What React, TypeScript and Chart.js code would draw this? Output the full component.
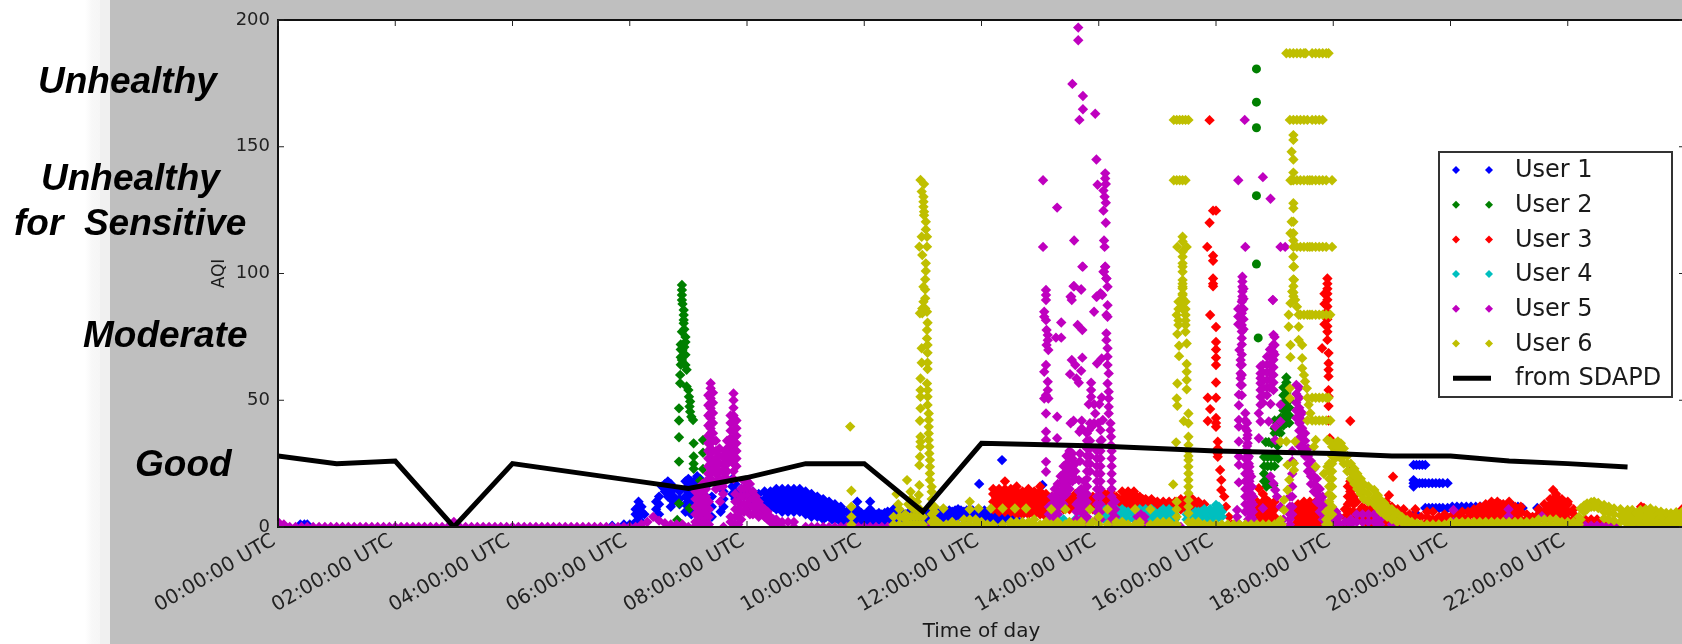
import React, { useEffect, useRef } from "react";
import { Chart, registerables } from "chart.js";

Chart.register(...registerables);

// every row is [hour, value, value, ...]
type Row = number[];
const expand = (rows: Row[]) => rows.flatMap(([h, ...vals]) => vals.map((v) => ({ x: h, y: v })));

const tickLabels = ["00:00:00 UTC","02:00:00 UTC","04:00:00 UTC","06:00:00 UTC","08:00:00 UTC","10:00:00 UTC","12:00:00 UTC","14:00:00 UTC","16:00:00 UTC","18:00:00 UTC","20:00:00 UTC","22:00:00 UTC"];

const user1Early: Row[] = [[.38,1],[.45,1],[.5,1],[5.7,.5],[5.9,1],[6,1],[6.1,2,5,7],[6.15,4,8,10],[6.2,2,6,8],[6.25,5]];
const user1Morning: Row[] = [[6.45,4,7,10],[6.5,5,9,12],[6.55,16],[6.6,17,14],[6.65,18,15,12],[6.7,17,14,11,8],[6.75,15,12,10],[6.85,14,11,9],[6.95,18,15,12,9,6],[7,19,16,13,10],[7.05,18,15,12,9,7,5],[7.1,18,15,12,9],[7.15,20,17,14,11],[7.2,19,16,13,10,7],[7.25,17,14,11],[7.3,16,12,9,5,2],[7.4,12,8,4],[7.55,10,6],[7.6,14,11,8],[7.75,19,16,13],[7.8,17,14,11],[7.9,15,12],[8,15,12],[8.1,14,11]];
const user1Ribbon: Row[] = [[8.2,13,11],[8.3,14,11,9],[8.4,14,11,8],[8.5,15,12,9,7],[8.6,15,12,9,6],[8.7,15,12,9,6],[8.8,15,12,9,6],[8.9,15,12,9,6],[9,14,11,8,5],[9.1,13,10,7,4],[9.2,12,9,6,4],[9.3,11,8,5,3],[9.4,10,7,4],[9.5,9,6,3],[9.6,8,5,2],[9.7,6,3,1],[9.8,7,4,1],[9.88,10,7,4,1],[10,5,2],[10.1,10,7,4,1],[10.2,5,2],[10.3,5,2],[10.4,6,3,1],[10.5,7,4,1],[10.6,4,2],[10.7,5,2],[10.8,4,1],[10.9,5,2],[11,5,2],[11.1,6,3,1],[11.2,4,1],[11.3,6,3],[11.4,6,3],[11.5,6,3],[11.6,7,4],[11.7,6,3],[11.8,7,4],[11.9,6,3],[12,6,3],[12.1,5,3],[12.2,5,3],[12.3,5,2],[12.4,5,3],[12.5,4,2],[12.6,5,3],[12.7,5],[12.35,26.4],[11.96,17],[13.04,16.6]];
const user1RibbonFill: Row[] = [[8.35,12.5,9.5],[8.45,13.5,10.5,8],[8.55,13.5,10.5,7.5],[8.65,13.5,10.5,7.5],[8.75,13.5,10.5,7.5],[8.85,13.5,10.5,7.5],[8.95,13,10,7],[9.05,12,9,6],[9.15,11,8,5],[9.25,10,7,5],[9.35,9,6,4],[9.45,8,5,3],[9.55,7,4],[9.65,6,3],[9.75,5.5,3],[9.85,5.5,3],[9.95,5.5,3],[10.05,5.5,3],[10.15,5.5,3],[10.25,5.5,3],[10.35,5.5,3],[10.45,5.5,3],[10.55,5.5,3],[10.65,5.5,3],[10.75,5.5,3],[10.85,5.5,3],[10.95,5.5,3],[11.05,5.5,3],[11.15,5.5,3],[11.25,5.5,3],[11.35,6.5,4.5],[11.45,6.5,4.5],[11.55,6.5,4.5],[11.65,6.5,4.5],[11.75,6.5,4.5],[11.85,6.5,4.5],[11.95,6.5,4.5],[12.05,6.5,4.5],[12.15,6.5,4.5],[12.25,6,4],[12.35,6,4],[12.45,6,4],[12.55,5,3]];
const user1Evening: Row[] = [[19.37,24.5,18.5,17.3,16],[19.42,24.5,17.3],[19.47,24.5,17.3],[19.52,24.5,17.3],[19.57,24.5,17.3,7.5],[19.63,17.3,7.5],[19.69,17.3,7.5],[19.75,17.3,7.5],[19.81,17.3,7.5],[19.87,17.3,7.5],[19.95,17.3,7.5],[19.4,5.5],[20.03,8,7],[20.11,8,7],[20.19,8,7],[20.27,8,7],[20.35,8,7],[20.43,8,7],[20.51,8,7],[20.59,8,7],[20.67,8,7],[20.75,8,7],[20.83,8],[20.91,8],[20.99,8],[21.07,8],[21.15,8],[21.23,7.5],[21.48,7.5]];

const user2High: Row[] = [[16.69,180.7,167.6,157.5,130.7,103.7],[16.72,74.6]];
const user2Morning: Row[] = [[6.89,95.5,93.5,91.5,89.5],[6.9,88],[6.92,85.6,83.6,81.7,80.4],[6.89,77],[6.95,75,73],[6.9,69.8],[6.95,67.9],[6.89,65.9],[6.95,63.9],[6.97,62],[6.86,60],[6.86,56.7],[6.97,55.4],[7,54],[7.01,51.4],[7.03,49.5],[7.02,47.5],[7.03,45.5],[7.05,43.5],[7.08,42.2],[6.84,46.8,42,35.4,25.8],[7.09,33,27.8,25,23],[7.25,34.3,29.3,22.9],[7.2,18.3],[6.84,9.3],[7.02,7.4],[6.81,2.8],[6.87,72,70,67,64],[6.93,78,71,68]];
const user2Evening: Row[] = [[17.2,59,57,55,53,51,49,47,45,43,41],[17.15,55,52,49,46,43,40],[17.25,50,47,44,41],[17,42,39,37],[17.05,41,38],[17.1,43,40,37],[16.85,33.5],[16.9,33.5],[16.95,33],[17.02,33],[17.05,32],[16.82,27.6,24],[16.88,27.6,24],[16.94,27.6,24],[17,27.6,24],[17.06,27],[16.82,21,18],[16.86,18,16],[16.92,17],[16.98,16.5]];

const user3Block: Row[] = [[12.2,7,10,13,15],[12.3,6,9,12,15],[12.4,6,9,12,15,18],[12.5,6,9,12,15],[12.6,5,8,11,14,16],[12.7,5,8,11,14],[12.8,5,8,11,14,15],[12.9,5,8,11,14],[13,5,8,11,14,16],[13.1,4,7,10,13],[13.2,5,8,10,12],[13.3,7,10,12],[13.4,7,10,12],[13.5,7,10,12],[13.6,7,10,13],[13.7,7,10,13],[13.8,7,10,12],[13.9,7,10,12],[14,7,10,12],[14.1,7,10,13],[14.2,7,10,14],[14.3,7,10,12],[14.4,7,10,14],[14.5,7,10,14],[14.6,7,10,14],[14.7,7,10,12],[14.8,7,10,11],[14.9,7,11],[15,7,10],[15.1,7,10],[15.2,7,10],[15.3,7,10],[15.4,7,10,11],[15.5,7,10,11],[15.6,7,10,11],[15.7,7,10],[15.8,7,9]];
const user3BlockFill: Row[] = [[12.25,8.5,11.5,14],[12.35,7.5,10.5,13.5],[12.45,7.5,10.5,13.5],[12.55,7,10,13],[12.65,6.5,9.5,12.5],[12.75,6.5,9.5,12.5],[12.85,6.5,9.5,12.5],[12.95,6.5,9.5,12.5],[13.05,6,9,12],[13.15,6,9,11],[13.25,8.5,11],[13.35,8.5,11],[13.45,8.5,11],[13.55,8.5,11],[13.65,8.5,11.5],[13.75,8.5,11.5],[13.85,8.5,11],[13.95,8.5,11],[14.05,8.5,11],[14.15,8.5,11.5],[14.25,8.5,12],[14.35,8.5,11],[14.45,8.5,12],[14.55,8.5,12],[14.65,8.5,12],[14.75,8.5,11],[14.85,8.5,10],[14.95,8.5],[15.05,8.5],[15.15,8.5],[15.25,8.5],[15.35,8.5],[15.45,8.5],[15.55,8.5],[15.65,8.5],[15.75,8.5]];
const user3Spike16: Row[] = [[15.89,160.5,120],[15.95,124.8,107,105,98,96,95],[16,124.8,78.9,73,70,66.8,63.9,57,51,43,41,39.5],[15.85,110.5],[15.9,83.6,46.5],[15.86,51,41.8],[16.03,33.6,31,29,27.7],[16.07,22.5],[16.09,18.5,14.6],[16.14,12],[16.17,8],[16.22,4],[16.27,1]];
const user3Spike18: Row[] = [[17.9,98,96,94,92,89.6,87,84.4,82,79.2,77,73.8],[17.85,92,88,84,80],[17.81,70.5],[17.92,68.6,64.6,62,59.4,54,51.5,47.7,42],[17.94,35],[18.29,41.8]];
const user3Low: Row[] = [[16.7,1,4,7,10],[16.73,15.3],[16.8,1,4,7,10,13],[16.9,1,4,7,10],[17,1,4,7,10],[17.35,1,4,7],[17.4,1,4,7,9],[17.5,1,4,7,10],[17.6,1,4,7,10],[17.7,1,4,7,10],[17.8,1,4,7,9],[17.85,2,5,8],[17.9,1,4],[18.1,1,4],[18.2,1,4,7],[18.25,6,9,12,16],[18.29,6,10,14,18,22],[18.35,3,6,9,12,16],[18.4,5,10],[18.5,2,5,8],[18.6,1,4,7,10],[18.7,1,4,8],[18.8,1,3,6,9],[18.9,1,4,7,10],[18.95,12.5],[19.02,19.8],[19,1,4,8],[19.1,1,4,7],[19.2,1,3,5,7],[19.3,1,3,5],[19.4,2,4,7],[19.5,1,4],[19.6,2,4,6],[19.7,1,3,6],[19.8,2,4],[19.9,3,5],[20,2,4],[20.1,2,4,5],[20.2,2,4,6],[20.3,2,4,6],[20.4,2,5,7],[20.5,2,5,8],[20.6,2,5,9],[20.7,2,5,8,10],[20.8,2,5,8,10],[20.9,3,6,9],[21,3,6,9,10],[21.1,3,6,8],[21.2,3,6,8],[21.3,3,5],[21.4,2,4],[21.5,3,5,7],[21.6,3,6,9],[21.7,3,6,9,11],[21.75,14.6],[21.8,3,6,9,12,13],[21.9,3,6,9,11],[22,3,6,9,10],[22.1,3,5,7],[22.2,2,3],[22.3,1,3],[22.4,1,3],[22.5,1,3],[22.6,1,2],[22.7,1],[23.25,8],[23.3,7.5],[23.95,7]];
const user3LowFill: Row[] = [[16.75,2.5,5.5,8.5],[16.85,2.5,5.5,8.5,11],[16.95,2.5,5.5,8.5],[17.45,2.5,5.5,8],[17.55,2.5,5.5,8.5],[17.65,2.5,5.5,8.5],[17.75,2.5,5.5,8.5],[18.45,3.5,6.5],[18.55,3.5,6.5],[18.65,2.5,5.5,8],[18.85,2.5,4.5,7.5],[18.95,2.5,5.5,8],[19.05,2.5,5.5],[19.15,2.5,5.5],[20.45,3.5,6],[20.55,3.5,6.5],[20.65,3.5,7],[20.75,3.5,6.5,9],[20.85,3.5,6.5,9],[20.95,4.5,7.5],[21.05,4.5,7.5],[21.15,4.5,7],[21.65,4.5,7.5],[21.75,4.5,7.5,10.5],[21.85,4.5,7.5,10.5],[21.95,4.5,7.5]];

const user4Band: Row[] = [[13.3,3,5],[13.4,2,3],[13.6,3],[13.7,5],[13.8,3],[14,5,7],[14.1,3,5,7],[14.2,3,5,7],[14.3,3,5,7],[14.4,3,5,7],[14.5,3,5,6],[14.6,3,5],[14.7,3,5,7],[14.8,3,5,7],[14.9,3,5,7],[15,5],[15.1,3,5,7],[15.2,3,5,7],[15.3,3,5],[15.5,3,5],[15.6,3,5],[15.7,3,5,6],[15.8,3,5,7],[15.9,3,5,7],[16,3,5,7,8.7],[16.1,4,6]];
const user4Fill: Row[] = [[14.05,4,6],[14.15,4,6],[14.25,4,6],[14.35,4,6],[14.45,4,6],[14.75,4,6],[14.85,4,6],[14.95,4,6],[15.05,4,6],[15.15,4,6],[15.25,4,6],[15.55,4],[15.65,4,6],[15.75,4,6],[15.85,4,6],[15.95,4,6],[16.05,4,6,8]];

const user5Floor: Row[] = [[0,0,2],[.1,1],[.2,0],[.3,0],[.4,0],[.5,0],[.6,0],[.7,0],[.8,0],[.9,0],[1,0],[1.1,0],[1.2,0],[1.3,0],[1.4,0],[1.5,0],[1.6,0],[1.7,0],[1.8,0],[1.9,0],[2,0],[2.1,0],[2.2,0],[2.3,0],[2.4,0],[2.5,0],[2.6,0],[2.7,0],[2.8,0],[2.9,0],[3,0,2],[3.1,0],[3.2,0],[3.3,0],[3.4,0],[3.5,0],[3.6,0],[3.7,0],[3.8,0],[3.9,0],[4,0],[4.1,0],[4.2,0],[4.3,0],[4.4,0],[4.5,0],[4.6,0],[4.7,0],[4.8,0],[4.9,0],[5,0],[5.1,0],[5.2,0],[5.3,0],[5.4,0],[5.5,0],[5.6,0],[5.7,0],[5.8,0],[5.9,0],[6,0],[6.1,0],[6.2,1],[6.3,2],[6.4,4],[6.5,2.5],[6.6,1.5],[6.7,1],[6.8,1],[6.9,1],[7,0],[7.1,0],[7.6,0],[8.6,0],[8.8,0],[9,0],[9.1,0],[9.2,0],[9.3,0],[9.4,0],[9.5,0],[9.6,0],[9.7,0],[9.8,0],[9.9,0],[10,0],[10.1,0],[10.2,0],[10.3,0],[10.4,0],[10.5,0],[10.6,0],[10.7,0],[10.8,0],[10.9,0],[11,0],[11.1,0],[11.2,0],[11.3,0]];
const user5Morning: Row[] = [[7.38,56.7,54.7,52.7,50.8,48.8,46.8,44.9,42.9,40.9,38.9,37,35,33,31,29,27,25,23,21,19],[7.34,52,48,44,40,36,33,30,27,24,21],[7.42,53,49,45,41,37,34,30,26,22,18],[7.47,34,30,27,24,21,18,15],[7.53,31,28,25,22,19,16],[7.59,28,25,22,19,16,13],[7.77,52.7,50,47,44,41,38,35,33,31,28,25,22,19],[7.72,44,41,38,35,32,29,26],[7.82,42,39,36,33,30,27,24],[7.66,34,31,28,25,22,19],[7.62,30,27,24,21,18],[7.12,14,11,8,5,2],[7.18,15,12,9,6,3,1],[7.24,17,14,11,8,5,2],[7.3,18,15,12,9,6,3,1],[7.35,10,7,4,1],[7.54,10],[7.8,13,10,7,4,1],[7.85,10,7,4,1],[7.72,4,2],[7.9,15,12,9,6,3],[7.95,18,15,12,9,6],[8,18,15,12,9,7],[8.05,17,14,11,8,5],[8.1,14,11,8,5],[8.15,12,9,6],[8.2,10,7,4],[8.25,8,5],[8.3,7,4],[8.35,6,3],[8.4,4,2],[8.45,3,1],[8.5,3,1],[8.6,2],[8.7,2],[8.8,2]];
const user5Scatter: Row[] = [[13.1,93.5,91.5,89.5,81.6,63.9,52,44.8,37.6,34.3,25.7,21.8],[13.07,84.9,82.9,61.2,50.7],[13.13,75.7,73.7,57.3,54],[13.14,69.8,50.7],[13.11,77.7,71.8],[13.72,102.7,77.7,66.8],[13.57,95,41.9],[13.7,93.7,61.6],[13.52,90.8,40.9],[13.54,89.5,65.9],[14.03,92.2,38.2],[13.96,90.8],[14.11,102.7,139.5,137.5,102.7],[14.08,100.7,132.7,124.8],[14.13,98,83.6,76.4,73.7,98],[14.15,94.8,87.5,82.9,70.5,67.2,63.9,56.6],[13.92,84.9,48.4,40.9],[13.36,80.7,74.7],[13.64,79.7],[13.27,74.7],[14.05,66.5,51.1,34.3],[13.97,64.5,90.9],[13.6,63.9],[13.51,60.3],[13.62,58.6],[13.66,56.9],[14.17,60.6,53.4,50.7,47.4,44.8],[13.87,56.9,54,51.4],[13.83,48.4,38.2],[14.01,48.4],[13.29,43.5,35,126],[13.94,44.8],[13.71,41.9,38.9],[13.85,40.9],[13.99,40.9],[14.07,42.2],[14.2,40.9,38.2],[13.67,37.6,160.6],[13.88,39.5],[14.21,35.6,32.3],[13.65,197,192],[13.55,174.8],[13.73,170,164.8,102.7],[13.94,163],[13.96,145],[14.12,135.3,127.9,120],[13.98,135],[13.05,136.8,110.5],[14.1,130.3,110.5],[13.58,113,95],[14.09,113,100.7],[13.7,93.7],[13.53,90.9],[14.06,91.5],[16.49,160.6],[16.38,136.8],[16.8,138],[16.93,129.5],[16.5,110.5],[17.1,110.5],[17.18,110.5],[16.97,89.5,89.6]];
const user5Dense: Row[] = [[13.15,1,3,5,8],[13.2,1,3,6,9,12],[13.25,3,6,9,12,15],[13.3,5,8,11,14,17],[13.35,8,11,14,17,20],[13.4,9,12,15,18,21,24],[13.45,13,16,19,22,25,28],[13.5,15,18,21,24,27,30],[13.55,18,21,24,27,29],[13.6,19,22,25],[13.62,3,6,9],[13.66,6.7,10,14,18.5],[13.68,29,26],[13.7,3,6,9,12,15],[13.75,3,6,9,12,15,18],[13.8,37,34,31,28,25,22,19,16,13,10,7,4,1],[13.85,34,31,28,25,22],[13.97,30,27,24,21,18,15,12,9,6,3],[14.03,34,30,27,24,21,18,15,12,9,6,3],[14.22,30,27,24,21,18,15,12,9,6,3],[14.28,10,7,4,1],[14.66,2,4],[14.72,2,4,5],[14.78,2,4],[15.4,0]];
const user5Afternoon: Row[] = [[16.45,98.7,96.8,94.8,92.9,90.9,89.5],[16.44,88.9,86.3,84.3,82.3,79.7,77.1,74.5,72,68,64,60,56,52],[16.38,86,83,80],[16.47,94,90,86,82,78],[16.4,69.8],[16.42,65.9,63.9,60.6,58.7,56],[16.39,52.2,48,42.2,39.6,33.7,27.8,24.5,17.6],[16.36,6.7,4,2],[16.5,44.9,42,39,30,27,24,21,18,15,12,9,6],[16.53,41,38,35,32],[16.54,36.3,33,30,27,24],[16.56,27.8,25,22,19],[16.55,18,15,12,9,6,3,1],[16.57,23.8,21,18,15,12],[16.6,19.9,16,13,10,7,4],[16.61,15.9,12,9,6,3,1],[16.63,12,9,6,3,1],[16.76,63.3,60.6,58.7,56.7,54,51.4,48.2,41.6],[16.8,64,61,58,55,52,49,7.4],[16.87,67.2,64,61,58,55,52],[16.92,70,67,64,61,58,55],[16.98,75.8,72,69,66,63,60,57,54,17.2],[17,75,71.8,68],[16.93,48.5,19.9],[17.1,48.2,41.6],[16.73,44.9,35],[16.9,41.6],[17.01,39.6,34.3,14.6],[17.04,12],[17.1,8],[17.15,3],[17.3,30,26,21,16,12,8,5],[17.26,12,8,5,3,1],[17.37,56,52.5,49,46,43],[17.42,55,51,47,44,41,38,35,32],[17.47,45,42,39,36,33,30],[17.52,37,34,31,28],[17.57,31,28,25,22],[17.62,26,23,20,17],[17.67,23,20,17,14],[17.72,19,16,13,10],[17.77,15,12,9,6],[17.82,12,9,6,3],[17.87,9,6,3,1],[17.92,6,3,1],[17.97,4,2],[18.02,6,3,1],[18.05,6,3,1],[18.1,4,1],[18.2,2],[18.3,3,1],[18.4,5,2],[18.5,5,2],[18.6,5,2],[18.7,5,2],[18.75,3,1],[18.8,3,1],[19,1],[19.2,1],[20.05,6.7,2,1],[20.99,4.2,7],[21.56,4.3],[22.2,.5],[22.3,.5],[22.4,.5],[22.5,.5],[22.6,.5],[22.7,.5],[22.8,.5],[23.25,.5],[23.4,.5]];

const user6Spike11: Row[] = [[10.96,136.9,58.6,54,51.4,46.8,35.6,33.6,31.7],[11.02,135.3],[10.98,132.3,114.5,70.5,64.8],[11.01,130.3,128.3,126.3,94.8],[11.02,124.4,123],[11.05,120.4,117.4,104,101],[11.07,114.5,110.6,84.9,77.7,74.4,56.6],[10.94,110.6,24.4,16.5],[10.99,107.3,84.3,86.2],[11.04,97.7,93.7,90.2,86.2],[11.01,88.9],[10.95,84.3,41.9,27.7],[11.08,80.6,71.8,68.7,64.8,62.3,54,51.4,48.1],[11.1,44.8,42.2,39.5,36.9,34.3],[11.11,31.7,29],[11.12,26.4,23.8,21.1,18.5],[11.15,15.9,13.9],[9.76,39.6],[9.78,14.3,8,4,1],[10.73,18.5],[10.79,13.9],[10.93,12.6]];
const user6Base: Row[] = [[10.5,4,1],[10.55,13],[10.58,9],[10.6,1,4,7],[10.7,1,3,5],[10.75,1,4,9],[10.8,1,4,8,11],[10.85,1,4,7],[10.9,1,4,7,10],[10.95,1,4,7],[11,1,4],[11.15,2,5,8,11],[11.2,1,3,6,8],[11.25,2],[11.3,1],[11.35,7.3],[11.4,1],[11.5,1,2],[11.6,1],[11.7,1,3],[11.8,1,3,7,10],[11.9,1,3],[11.95,7.3],[12,1,2],[12.1,1],[12.16,7.3],[12.2,1],[12.36,1,7.3],[12.5,1,2],[12.57,7.3],[12.6,1,2],[12.7,1,2],[12.76,7.3],[12.8,1,2],[12.9,1,3],[13,1],[13.1,1,2],[13.19,1,7],[13.3,1,2],[13.43,1,7],[13.5,1,2],[13.6,1],[13.7,1,2],[13.85,1,7],[13.9,2],[14,1,4],[14.15,1,7],[14.3,1,2],[14.4,1,2],[14.5,1],[14.62,1,7],[14.7,1,2],[14.88,1,7],[15,1,2],[15.1,1,2],[15.2,1,2],[15.33,10,7,4,1],[15.6,1,2],[15.7,1,2],[15.8,1],[15.9,1],[16,1],[16.1,1],[16.2,1],[16.3,1],[16.4,1],[16.5,1],[16.6,1],[16.7,1],[16.8,1],[16.9,1],[17,1],[17.05,1]];
const user6Spike15: Row[] = [[15.28,160.6,136.8],[15.33,160.6,136.8],[15.38,160.6,136.8],[15.43,160.6,136.8,114.5,112.6,108.6,106.6,104,102.7,100.7,97.4,96,94.8,94.1,91.5,92,90,88,86],[15.48,160.6,136.8,88.9,86,83.6,81.5,79.7,77],[15.53,160.6],[15.34,110.5,76.1,47.8],[15.5,110.5,72.4,64.3,61.2,58,54.3],[15.36,88.9,86,81.5],[15.33,83.6,50.7],[15.36,79.7],[15.37,71.5,67.4],[15.34,56.6],[15.53,44.8,40.9,35.6,32.3,30,28,26.4,23.8,21.1,18.5,15.9,13.3,10.6,8,5.4,2],[15.45,41.8],[15.32,33.4],[15.27,16.8]];
const user6Rows: Row[] = [[17.2,186.9],[17.26,186.9,160.6],[17.32,186.9,160.6],[17.38,186.9,160.6,136.8,110.5],[17.44,186.9,160.6,136.8,110.5,83.7],[17.5,186.9,160.6,136.8,110.5,83.7],[17.53,186.9],[17.64,186.9,160.6,136.8,110.5,83.7,51,42],[17.7,186.9,160.6,136.8,110.5,83.7,51,42],[17.76,186.9,160.6,136.8,110.5,83.7,51,42],[17.82,186.9,160.6,136.8,110.5,83.7,51,42],[17.88,186.9,136.8,110.5,83.7,51,42],[17.92,186.9,51],[17.98,136.8,110.5],[17.56,160.6,136.8,110.5,83.7,42,51],[17.6,136.8,110.5,83.7],[17.95,83.7,42,33.7]];
const user6Column: Row[] = [[17.32,154.6,152.7,145,139.8,136.8,127.7,125.7,120.4,115.9,113,110.5,106.6,102.7,97.7,95,92.5,91],[17.29,148,136.8,120.4],[17.27,136.8,115.9],[17.33,102.7,97.5],[17.3,92.9],[17.35,89.6],[17.27,88.3,71.8,67],[17.24,83.7,79],[17.38,86.9],[17.41,83.7,79,73.8],[17.47,71.8,66.6,62.6],[17.5,60],[17.52,57.4],[17.55,54.7],[17.58,48.2],[17.61,44.9],[17.7,34.3,23.8],[17.9,34.3,23.8],[17.67,31.7],[17.84,21],[17.1,33.7,2.8],[17.2,33.7],[17.35,33.7],[17.26,54.7,50.8],[17.16,6.7,10.7],[17.22,14.6,24.5],[17.25,18.6],[17.33,22.5,25.1],[17.07,1],[17.12,1]];
const user6Hump: Row[] = [[17.93,25,22,19,16,13,10,7,4,1],[17.88,6,3,1],[17.98,31.7,28,25,22,19,16,12,8,5],[18.03,33,30,27],[18.08,33.7,31,28],[18.13,33,30,27],[18.18,31,28,25],[18.24,28,25,22],[18.3,25,22,19],[18.36,23,20,17],[18.41,21,18,15],[18.47,19,16,13],[18.52,17,14,11],[18.6,16,13,10],[18.7,14.6,11.5,9],[18.76,12.5,10,7.5],[18.81,10.7,8,6],[18.87,9.5,7,5],[18.92,8,6,4],[19,7,5,3],[19.09,5.4,3.5,2],[19.17,4,2],[19.26,2.8,1],[19.34,2,1],[19.43,1.5,.5],[19.5,1],[19.6,1],[19.7,1],[19.8,1],[19.9,1],[20,1,2],[20.1,1,2],[20.2,1,2],[20.3,1,2],[20.4,1,2],[20.5,1,2],[20.6,1,2],[20.7,1,2],[20.8,1,2],[20.9,1,2],[21,1,2],[21.1,1,2],[21.2,1,2],[21.3,1,2],[21.4,1,2],[21.5,1,3],[21.6,1,3],[21.7,1,3],[21.8,1,3],[21.9,1,2],[22,1,2],[22.1,1,2]];
const user6Late: Row[] = [[22.19,1,4],[22.22,3,7.3],[22.28,8.5,6],[22.33,9.3,7],[22.4,9.8,8],[22.45,10,8],[22.52,9.5,7.5],[22.62,8.7,6,3.4],[22.7,8,5.5,3],[22.79,7.3,5,2.5],[22.9,7,4.5,2],[23.02,6.7,4,1],[23.1,6.7,4,1],[23.24,6.7,4,1],[23.33,7,4,1],[23.41,7.3,4,1],[23.5,6.5,3.5,1],[23.59,6,3,1],[23.68,5.5,3,1],[23.76,5.4,3,1],[23.85,5.8,3,1],[23.95,6,3,1],[22.95,5.5,3],[23.07,5.5,3],[23.17,5.5,3],[23.28,5.5,3],[23.37,5.5,3],[23.45,5.5,3],[23.55,5,3],[23.64,5,3],[23.72,4.5,2.5],[23.8,4.5,2.5],[23.9,4.5,2.5],[23.99,5,3]];

const sdapdHours = [0,1,2,3,4,6,7,8,9,10,11,12,14,16,18,19,20,21,22,23.02];
const sdapdValues = [28,25,26,0,25,18.5,15.2,19.5,25,25,6,33,32,30,29,28,28,26,25,23.7];

const userNames = ["User 1","User 2","User 3","User 4","User 5","User 6"];
const userColors = ["#0000ff","#008000","#ff0000","#00bfbf","#bf00bf","#bfbf00"];
const userRows: Row[][] = [
  [...user1Early,...user1Morning,...user1Ribbon,...user1RibbonFill,...user1Evening],
  [...user2High,...user2Morning,...user2Evening],
  [...user3Block,...user3BlockFill,...user3Spike16,...user3Spike18,...user3Low,...user3LowFill],
  [...user4Band,...user4Fill],
  [...user5Floor,...user5Morning,...user5Scatter,...user5Dense,...user5Afternoon],
  [...user6Spike11,...user6Base,...user6Spike15,...user6Rows,...user6Column,...user6Hump,...user6Late],
];
const roundCount = expand(user2High).length;

const labels = [
  { text: "Unhealthy", x: 38, base: 93 },
  { text: "Unhealthy", x: 41, base: 190 },
  { text: "for  Sensitive", x: 14, base: 235 },
  { text: "Moderate", x: 83, base: 347 },
  { text: "Good", x: 135, base: 476 },
];

const frame = {
  id: "frame",
  beforeDatasetsDraw(c: any) {
    const a = c.chartArea, g = c.ctx;
    g.save(); g.fillStyle = "#fff"; g.fillRect(a.left, a.top, a.width, a.height); g.restore();
  },
  afterDatasetsDraw(c: any) {
    const a = c.chartArea, g = c.ctx;
    g.save(); g.strokeStyle = "#111"; g.lineWidth = 2;
    g.strokeRect(a.left, a.top, a.width, a.height);
    g.lineWidth = 1; g.strokeStyle = "#222"; g.beginPath();
    c.scales.x.ticks.forEach((t: any) => {
      const x = c.scales.x.getPixelForValue(t.value);
      g.moveTo(x, a.top); g.lineTo(x, a.top + 6); g.moveTo(x, a.bottom); g.lineTo(x, a.bottom - 6);
    });
    c.scales.y.ticks.forEach((t: any) => {
      const y = c.scales.y.getPixelForValue(t.value);
      g.moveTo(a.left, y); g.lineTo(a.left + 6, y); g.moveTo(a.right, y); g.lineTo(a.right - 6, y);
    });
    g.stroke(); g.restore();
  },
  afterDraw(c: any) {
    const g = c.ctx;
    g.save();
    g.fillStyle = "#fff"; g.strokeStyle = "#333"; g.lineWidth = 2;
    g.fillRect(1439, 152, 233, 245); g.strokeRect(1439, 152, 233, 245);
    g.font = "24px 'DejaVu Sans'"; g.textBaseline = "middle"; g.textAlign = "left";
    c.data.datasets.forEach((d: any, i: number) => {
      const y = 170 + i * 34.7;
      if (d.showLine) {
        g.strokeStyle = d.borderColor; g.lineWidth = 5; g.beginPath(); g.moveTo(1453, y); g.lineTo(1491, y); g.stroke();
      } else {
        g.fillStyle = d.backgroundColor;
        [1456, 1489].forEach((x) => {
          g.beginPath(); g.moveTo(x - 4, y); g.lineTo(x, y - 4); g.lineTo(x + 4, y); g.lineTo(x, y + 4); g.closePath(); g.fill();
        });
      }
      g.fillStyle = "#1a1a1a"; g.fillText(d.label, 1515, y + 1);
    });
    g.restore();
  },
};

export default function App() {
  const ref = useRef<HTMLCanvasElement>(null);
  useEffect(() => {
    const chart = new Chart(ref.current as HTMLCanvasElement, {
      type: "scatter",
      plugins: [frame],
      data: {
        datasets: [
          ...userNames.map((name, i) => ({
            label: name,
            data: expand(userRows[i]),
            backgroundColor: userColors[i],
            borderWidth: 0,
            pointRadius: i === 1 ? (ctx: any) => (ctx.dataIndex < roundCount ? 4.5 : 5.2) : 5.2,
            pointStyle: i === 1 ? (ctx: any) => (ctx.dataIndex < roundCount ? "circle" : "rectRot") : "rectRot",
            order: 10 - i,
            showLine: false,
          })),
          {
            label: "from SDAPD",
            data: sdapdHours.map((h, i) => ({ x: h, y: sdapdValues[i] })),
            borderColor: "#000",
            backgroundColor: "#000",
            borderWidth: 5,
            pointRadius: 0,
            showLine: true,
            order: 1,
          },
        ],
      } as any,
      options: {
        animation: false,
        responsive: false,
        events: [],
        layout: { padding: { left: 209, top: 20, right: 15, bottom: 0 } },
        plugins: { legend: { display: false }, tooltip: { enabled: false } },
        scales: {
          x: {
            type: "linear", min: 0, max: 24,
            afterFit: (s: any) => { s.height = 117; s.paddingLeft = 0; s.paddingRight = 0; },
            grid: { display: false }, border: { display: false },
            title: { display: true, text: "Time of day", color: "#1a1a1a", font: { family: "'DejaVu Sans'", size: 20 }, padding: { top: 0, bottom: 0 } },
            ticks: {
              stepSize: 2, autoSkip: false, minRotation: 30, maxRotation: 30, color: "#222", padding: -6, labelOffset: -4,
              font: { family: "'DejaVu Sans'", size: 20 },
              callback: (v: any) => tickLabels[Number(v) / 2] ?? "",
            },
          },
          y: {
            min: 0, max: 200,
            afterFit: (s: any) => { s.width = 69; },
            grid: { display: false }, border: { display: false },
            title: { display: true, text: "AQI", color: "#1a1a1a", font: { family: "'DejaVu Sans'", size: 17 }, padding: { top: 0, bottom: 0 } },
            ticks: { stepSize: 50, color: "#222", padding: 0, font: { family: "'DejaVu Sans'", size: 18 } },
          },
        },
      },
    } as any);
    return () => chart.destroy();
  }, []);
  return (
    <div style={{ position: "fixed", left: 0, top: 0, width: 1682, height: 644, overflow: "hidden", filter: "blur(0.5px)",
      background: "linear-gradient(to right,#fff 0,#fff 85px,#f8f8f8 92px,#f6f6f6 100px,#f0f0f0 100px,#f0f0f0 110px,#bfbfbf 110px,#bfbfbf 100%)" }}>
      <canvas ref={ref} width={1700} height={644} style={{ display: "block", width: 1700, height: 644 }} />
      {labels.map((l, i) => (
        <div key={i} style={{ position: "absolute", left: l.x, top: l.base - 31, whiteSpace: "pre",
          font: "italic bold 37px/37px 'Liberation Sans'", color: "#000" }}>{l.text}</div>
      ))}
    </div>
  );
}
